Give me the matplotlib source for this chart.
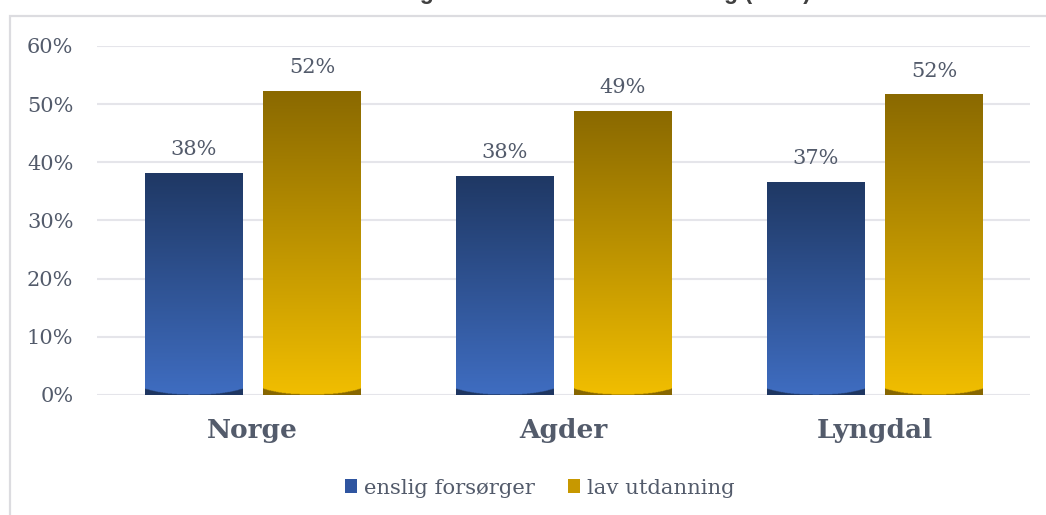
import numpy as np
import matplotlib
matplotlib.use("Agg")
import matplotlib.pyplot as plt
from matplotlib.patches import Rectangle, Patch
from matplotlib.colors import to_rgb

# Data
categories = ["Norge", "Agder", "Lyngdal"]
series_names = ["enslig forsørger", "lav utdanning"]
enslig = [38.1, 37.6, 36.6]
lav_utdanning = [52.2, 48.8, 51.6]
yticks = [0, 10, 20, 30, 40, 50, 60]
title_text = "Andel i lavinntektshusholdning etter foreldrenes utdanning (2019)"

TEXT = "#535b6b"
GRID = "#e5e5ea"
SERIF = ["DejaVu Serif"]

# top / bottom colours of each bar gradient
grad_colors = [("#1f3864", "#3f6dc1"), ("#8a6900", "#f1be00")]

fig = plt.figure(figsize=(10.46, 5.15), dpi=100)
fig.patch.set_facecolor("white")

# chart frame
fig.patches.append(Rectangle((10 / 1046, -0.05), 1.2, 1 - 16 / 515 + 0.05,
                             transform=fig.transFigure, facecolor="none",
                             edgecolor="#dcdce0", linewidth=1.6, zorder=-5))

# title (sits above the frame)
fig.text(0.433, 1 + 1.5 / 515, title_text, ha="center", va="baseline",
         fontsize=16.6, fontweight="bold", color="#404040",
         family=["Liberation Sans"])

ax = fig.add_axes([97 / 1046, 1 - 395 / 515, (1030 - 97) / 1046, (395 - 46) / 515])
ax.set_facecolor("none")
ax.set_xlim(-0.5, len(categories) - 0.5)
ax.set_ylim(0, 60)

for y in yticks:
    ax.axhline(y, color=GRID, linewidth=1.5, zorder=0)

bar_w = 0.312
offset = 0.191


def gradient_bar(xc, value, top_hex, bot_hex):
    x0, x1 = xc - bar_w / 2, xc + bar_w / 2
    nrows, ncols = 600, 120
    top = np.array(to_rgb(top_hex))
    bot = np.array(to_rgb(bot_hex))
    v = np.linspace(value, 0, nrows)[:, None]          # row 0 at top
    t = (v / value)                                      # 1 at top, 0 at bottom
    img = bot[None, None, :] * (1 - t[..., None]) + top[None, None, :] * t[..., None]
    img = np.broadcast_to(img, (nrows, ncols, 3)).copy()
    u = np.linspace(-1, 1, ncols)[None, :]
    arc = 0.06 + 1.0 * np.abs(u) ** 2.6                  # dark rim at the base
    mask = v < arc
    img[mask] = top * 0.98
    ax.imshow(img, extent=[x0, x1, 0, value], aspect="auto",
              interpolation="bilinear", zorder=2)
    ax.annotate(f"{value:.0f}%", (xc, value), xytext=(0, 17),
                textcoords="offset points", ha="center", va="center",
                fontsize=15, color=TEXT, family=SERIF)


for i in range(len(categories)):
    gradient_bar(i - offset, enslig[i], *grad_colors[0])
    gradient_bar(i + offset, lav_utdanning[i], *grad_colors[1])

ax.set_xlim(-0.5, len(categories) - 0.5)
ax.set_ylim(0, 60)

ax.set_yticks(yticks)
ax.set_yticklabels([f"{v}%" for v in yticks], family=SERIF, fontsize=15, color=TEXT)
ax.set_xticks(range(len(categories)))
ax.set_xticklabels(categories, family=SERIF, fontsize=19, fontweight="bold", color=TEXT)
ax.tick_params(axis="y", length=0, pad=17)
ax.tick_params(axis="x", length=0, pad=16.5)
for s in ax.spines.values():
    s.set_visible(False)

handles = [Patch(facecolor="#2f55a0", edgecolor="none"),
           Patch(facecolor="#c79800", edgecolor="none")]
leg = fig.legend(handles, series_names, loc="center", bbox_to_anchor=(0.516, 1 - 488 / 515),
                 ncol=2, frameon=False, handlelength=0.58, handleheight=0.58,
                 handletextpad=0.3, columnspacing=1.6,
                 prop={"family": SERIF, "size": 15.2})
for t in leg.get_texts():
    t.set_color(TEXT)

fig.savefig("out.png", dpi=100, facecolor="white")
